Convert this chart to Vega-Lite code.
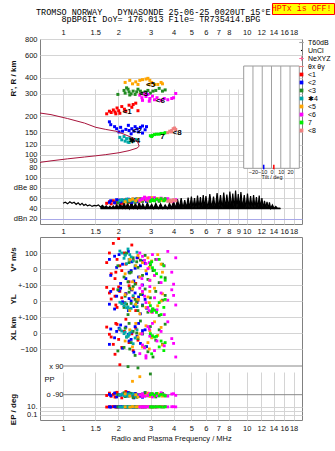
{
  "$schema": "https://vega.github.io/schema/vega-lite/v6.json",
  "padding": {"left": 8, "top": 2, "right": 0, "bottom": 0},
  "title": {
    "text": "TROMSO NORWAY\u00a0\u00a0\u00a0DYNASONDE 25-06-25 0020UT 15°E",
    "subtitle": "\u200b\u00a0\u00a0\u00a0\u00a0\u00a08pBP6It DoY= 176.013 File= TR735414.BPG",
    "anchor": "start", "frame": "group", "offset": -21, "dx": -4,
    "font": "Liberation Mono", "fontSize": 8.5, "fontWeight": "normal", "color": "#000",
    "subtitleFont": "Liberation Mono", "subtitleFontSize": 8.5, "subtitleColor": "#000", "subtitlePadding": -1
  },
  "datasets": {
    "echo": [
      {"c":"<1","f":1.73,"R":209,"a":50,"v":40,"yl":85,"xl":37,"pp":-95,"ep":9},
      {"c":"<1","f":1.79,"R":219,"a":53,"v":100,"yl":50,"xl":-8,"pp":-80,"ep":11},
      {"c":"<1","f":1.83,"R":214,"a":49,"v":-30,"yl":12,"xl":-25,"pp":-100,"ep":10},
      {"c":"<1","f":1.88,"R":224,"a":55,"v":160,"yl":75,"xl":-71,"pp":-88,"ep":12},
      {"c":"<1","f":1.92,"R":216,"a":52,"v":-60,"yl":30,"xl":-133,"pp":-105,"ep":10},
      {"c":"<1","f":1.97,"R":232,"a":51,"v":60,"yl":-40,"xl":54,"pp":-75,"ep":9},
      {"c":"<1","f":2.01,"R":221,"a":56,"v":190,"yl":88,"xl":-40,"pp":-92,"ep":11},
      {"c":"<1","f":2.04,"R":211,"a":53,"v":20,"yl":60,"xl":20,"pp":98,"ep":10},
      {"c":"<1","f":2.09,"R":238,"a":50,"v":-10,"yl":20,"xl":-90,"pp":-110,"ep":10},
      {"c":"<1","f":2.16,"R":227,"a":54,"v":100,"yl":-10,"xl":10,"pp":-85,"ep":12},
      {"c":"<1","f":2.20,"R":219,"a":57,"v":30,"yl":45,"xl":86,"pp":-70,"ep":9},
      {"c":"<1","f":2.29,"R":244,"a":52,"v":-80,"yl":95,"xl":-60,"pp":-98,"ep":10},
      {"c":"<1","f":2.37,"R":235,"a":55,"v":150,"yl":70,"xl":-5,"pp":-90,"ep":11},
      {"c":"<1","f":2.41,"R":247,"a":58,"v":55,"yl":25,"xl":-110,"pp":-102,"ep":10},
      {"c":"<1","f":2.49,"R":253,"a":53,"v":-90,"yl":-60,"xl":30,"pp":-84,"ep":9},
      {"c":"<1","f":2.56,"R":221,"a":56,"v":70,"yl":5,"xl":-45,"pp":-95,"ep":11},
      {"c":"<1","f":1.94,"R":209,"a":51,"v":-20,"yl":-25,"xl":60,"pp":-78,"ep":10},

      {"c":"<2","f":1.79,"R":181,"a":52,"v":60,"yl":-20,"xl":-71,"pp":-88,"ep":10},
      {"c":"<2","f":1.82,"R":172,"a":55,"v":-40,"yl":60,"xl":25,"pp":-96,"ep":9},
      {"c":"<2","f":1.91,"R":166,"a":51,"v":80,"yl":-50,"xl":-30,"pp":-80,"ep":11},
      {"c":"<2","f":1.96,"R":160,"a":57,"v":10,"yl":30,"xl":10,"pp":-104,"ep":10},
      {"c":"<2","f":2.06,"R":164,"a":53,"v":-90,"yl":80,"xl":50,"pp":-92,"ep":12},
      {"c":"<2","f":2.11,"R":153,"a":56,"v":30,"yl":-5,"xl":-95,"pp":-85,"ep":10},
      {"c":"<2","f":2.20,"R":158,"a":54,"v":-60,"yl":45,"xl":37,"pp":-99,"ep":9},
      {"c":"<2","f":2.27,"R":170,"a":58,"v":110,"yl":-60,"xl":-8,"pp":-76,"ep":11},
      {"c":"<2","f":2.29,"R":155,"a":55,"v":-20,"yl":15,"xl":-50,"pp":-93,"ep":10},
      {"c":"<2","f":2.37,"R":160,"a":52,"v":45,"yl":70,"xl":5,"pp":-87,"ep":10},
      {"c":"<2","f":2.43,"R":153,"a":57,"v":-75,"yl":-35,"xl":-120,"pp":-110,"ep":9},
      {"c":"<2","f":2.47,"R":166,"a":54,"v":5,"yl":50,"xl":40,"pp":-82,"ep":12},
      {"c":"<2","f":2.53,"R":160,"a":59,"v":70,"yl":-10,"xl":-20,"pp":-95,"ep":10},
      {"c":"<2","f":2.58,"R":151,"a":53,"v":-50,"yl":25,"xl":60,"pp":-90,"ep":11},
      {"c":"<2","f":2.64,"R":164,"a":56,"v":20,"yl":-80,"xl":-65,"pp":-100,"ep":10},
      {"c":"<2","f":2.71,"R":168,"a":55,"v":-100,"yl":40,"xl":-5,"pp":-86,"ep":9},
      {"c":"<2","f":2.80,"R":157,"a":58,"v":35,"yl":10,"xl":20,"pp":-79,"ep":10},
      {"c":"<2","f":2.85,"R":166,"a":54,"v":-30,"yl":-45,"xl":-85,"pp":-97,"ep":11},
      {"c":"<2","f":2.02,"R":151,"a":56,"v":90,"yl":65,"xl":30,"pp":-91,"ep":10},
      {"c":"<2","f":2.35,"R":146,"a":53,"v":-10,"yl":0,"xl":-40,"pp":-84,"ep":12},
      {"c":"<2","f":2.71,"R":148,"a":57,"v":50,"yl":-25,"xl":15,"pp":-106,"ep":9},

      {"c":"<3","f":1.99,"R":296,"a":51,"v":20,"yl":70,"xl":-112,"pp":-90,"ep":10},
      {"c":"<3","f":2.15,"R":318,"a":54,"v":-50,"yl":-40,"xl":-90,"pp":-78,"ep":11},
      {"c":"<3","f":2.18,"R":303,"a":56,"v":90,"yl":30,"xl":30,"pp":-102,"ep":9},
      {"c":"<3","f":2.26,"R":325,"a":53,"v":-80,"yl":-85,"xl":-20,"pp":86,"ep":10},
      {"c":"<3","f":2.29,"R":310,"a":57,"v":40,"yl":55,"xl":60,"pp":-95,"ep":12},
      {"c":"<3","f":2.35,"R":299,"a":55,"v":-20,"yl":-15,"xl":-60,"pp":-84,"ep":10},
      {"c":"<3","f":2.41,"R":314,"a":58,"v":70,"yl":90,"xl":10,"pp":-108,"ep":11},
      {"c":"<3","f":2.47,"R":296,"a":52,"v":-95,"yl":10,"xl":-140,"pp":-92,"ep":9},
      {"c":"<3","f":2.56,"R":325,"a":56,"v":10,"yl":-60,"xl":-35,"pp":78,"ep":10},
      {"c":"<3","f":2.64,"R":314,"a":59,"v":55,"yl":40,"xl":75,"pp":-88,"ep":10},
      {"c":"<3","f":2.71,"R":303,"a":54,"v":-40,"yl":-30,"xl":-5,"pp":-99,"ep":12},
      {"c":"<3","f":2.80,"R":310,"a":57,"v":85,"yl":75,"xl":-87,"pp":-76,"ep":9},
      {"c":"<3","f":2.90,"R":318,"a":55,"v":-65,"yl":-70,"xl":-117,"pp":-94,"ep":11},
      {"c":"<3","f":2.99,"R":303,"a":60,"v":25,"yl":20,"xl":40,"pp":40,"ep":10},
      {"c":"<3","f":3.09,"R":314,"a":56,"v":-10,"yl":-50,"xl":-150,"pp":-86,"ep":10},
      {"c":"<3","f":3.20,"R":318,"a":58,"v":60,"yl":60,"xl":-45,"pp":-104,"ep":9},
      {"c":"<3","f":3.34,"R":330,"a":54,"v":-85,"yl":-90,"xl":20,"pp":-90,"ep":12},
      {"c":"<3","f":3.48,"R":314,"a":57,"v":30,"yl":5,"xl":-70,"pp":-82,"ep":10},
      {"c":"<3","f":3.60,"R":321,"a":59,"v":-55,"yl":35,"xl":55,"pp":-98,"ep":11},
      {"c":"<3","f":2.22,"R":333,"a":53,"v":100,"yl":-20,"xl":-25,"pp":-93,"ep":10},
      {"c":"<3","f":2.31,"R":293,"a":55,"v":-25,"yl":80,"xl":-100,"pp":-80,"ep":9},
      {"c":"<3","f":2.52,"R":310,"a":58,"v":45,"yl":-5,"xl":0,"pp":-106,"ep":10},

      {"c":"✱4","f":2.04,"R":137,"a":55,"v":112,"yl":-8,"xl":25,"pp":-92,"ep":10},
      {"c":"✱4","f":2.09,"R":131,"a":57,"v":100,"yl":-17,"xl":12,"pp":-88,"ep":9},
      {"c":"✱4","f":2.15,"R":139,"a":54,"v":67,"yl":-29,"xl":-4,"pp":-96,"ep":11},
      {"c":"✱4","f":2.22,"R":134,"a":58,"v":33,"yl":-42,"xl":-25,"pp":-86,"ep":10},
      {"c":"✱4","f":2.26,"R":126,"a":56,"v":125,"yl":-37,"xl":-17,"pp":-100,"ep":9},
      {"c":"✱4","f":2.31,"R":135,"a":55,"v":90,"yl":-50,"xl":0,"pp":-90,"ep":10},
      {"c":"✱4","f":2.35,"R":129,"a":57,"v":75,"yl":-46,"xl":12,"pp":-94,"ep":11},
      {"c":"✱4","f":2.41,"R":128,"a":56,"v":50,"yl":33,"xl":-67,"pp":-84,"ep":10},
      {"c":"✱4","f":2.47,"R":132,"a":54,"v":20,"yl":-25,"xl":-31,"pp":-98,"ep":9},
      {"c":"✱4","f":2.53,"R":131,"a":58,"v":105,"yl":-35,"xl":20,"pp":-91,"ep":10},
      {"c":"✱4","f":2.29,"R":125,"a":56,"v":60,"yl":-55,"xl":-10,"pp":-87,"ep":11},
      {"c":"✱4","f":2.18,"R":128,"a":55,"v":85,"yl":-12,"xl":5,"pp":-95,"ep":10},

      {"c":"<5","f":2.18,"R":367,"a":53,"v":-30,"yl":40,"xl":-50,"pp":-85,"ep":10},
      {"c":"<5","f":2.31,"R":381,"a":56,"v":60,"yl":-60,"xl":20,"pp":-98,"ep":9},
      {"c":"<5","f":2.39,"R":358,"a":58,"v":-80,"yl":75,"xl":-87,"pp":-6,"ep":12},
      {"c":"<5","f":2.49,"R":371,"a":55,"v":20,"yl":-20,"xl":60,"pp":-90,"ep":10},
      {"c":"<5","f":2.56,"R":354,"a":59,"v":85,"yl":10,"xl":-25,"pp":-104,"ep":11},
      {"c":"<5","f":2.62,"R":381,"a":54,"v":-50,"yl":-80,"xl":-5,"pp":23,"ep":10},
      {"c":"<5","f":2.71,"R":386,"a":57,"v":40,"yl":55,"xl":-87,"pp":-88,"ep":9},
      {"c":"<5","f":2.83,"R":390,"a":60,"v":-10,"yl":-40,"xl":45,"pp":-95,"ep":10},
      {"c":"<5","f":2.90,"R":395,"a":56,"v":70,"yl":25,"xl":-60,"pp":-80,"ep":12},
      {"c":"<5","f":2.97,"R":381,"a":58,"v":-70,"yl":60,"xl":15,"pp":-101,"ep":10},
      {"c":"<5","f":2.95,"R":354,"a":55,"v":10,"yl":-10,"xl":-100,"pp":-92,"ep":11},
      {"c":"<5","f":3.04,"R":367,"a":61,"v":50,"yl":-70,"xl":-30,"pp":-86,"ep":9},
      {"c":"<5","f":3.15,"R":354,"a":57,"v":-40,"yl":80,"xl":70,"pp":-97,"ep":10},
      {"c":"<5","f":3.28,"R":354,"a":59,"v":90,"yl":-30,"xl":-15,"pp":-83,"ep":10},
      {"c":"<5","f":3.48,"R":358,"a":56,"v":-20,"yl":45,"xl":-75,"pp":-99,"ep":11},
      {"c":"<5","f":3.42,"R":367,"a":58,"v":30,"yl":0,"xl":35,"pp":-90,"ep":12},

      {"c":"<6","f":2.62,"R":292,"a":56,"v":100,"yl":80,"xl":-129,"pp":-90,"ep":10},
      {"c":"<6","f":2.71,"R":266,"a":59,"v":79,"yl":60,"xl":-75,"pp":-85,"ep":11},
      {"c":"<6","f":2.78,"R":299,"a":62,"v":54,"yl":30,"xl":-92,"pp":-100,"ep":10},
      {"c":"<6","f":2.83,"R":285,"a":57,"v":33,"yl":-10,"xl":-142,"pp":140,"ep":9},
      {"c":"<6","f":2.90,"R":296,"a":60,"v":2,"yl":-40,"xl":40,"pp":-95,"ep":12},
      {"c":"<6","f":2.97,"R":275,"a":55,"v":-71,"yl":90,"xl":-20,"pp":-82,"ep":10},
      {"c":"<6","f":3.07,"R":287,"a":58,"v":90,"yl":-70,"xl":60,"pp":-104,"ep":10},
      {"c":"<6","f":3.15,"R":269,"a":61,"v":-40,"yl":20,"xl":-110,"pp":-88,"ep":11},
      {"c":"<6","f":3.25,"R":279,"a":57,"v":60,"yl":-55,"xl":-50,"pp":-96,"ep":9},
      {"c":"<6","f":3.42,"R":266,"a":60,"v":-85,"yl":50,"xl":10,"pp":-78,"ep":10},
      {"c":"<6","f":3.56,"R":275,"a":56,"v":20,"yl":-85,"xl":-80,"pp":-92,"ep":12},
      {"c":"<6","f":3.72,"R":269,"a":59,"v":110,"yl":5,"xl":70,"pp":-99,"ep":10},
      {"c":"<6","f":3.91,"R":275,"a":54,"v":-20,"yl":70,"xl":-35,"pp":-86,"ep":11},
      {"c":"<6","f":4.11,"R":301,"a":57,"v":70,"yl":-25,"xl":-150,"pp":-94,"ep":10},
      {"c":"<6","f":2.69,"R":279,"a":58,"v":-60,"yl":100,"xl":-5,"pp":-101,"ep":9},
      {"c":"<6","f":2.95,"R":262,"a":61,"v":40,"yl":-60,"xl":25,"pp":-90,"ep":10},
      {"c":"<6","f":4.0,"R":279,"a":55,"v":-95,"yl":35,"xl":-65,"pp":-84,"ep":11},

      {"c":"7","f":2.99,"R":141,"a":54,"v":33,"yl":-29,"xl":-4,"pp":-90,"ep":10},
      {"c":"7","f":3.07,"R":142,"a":57,"v":8,"yl":-50,"xl":-17,"pp":-86,"ep":9},
      {"c":"7","f":3.15,"R":144,"a":55,"v":-8,"yl":-58,"xl":-25,"pp":-94,"ep":10},
      {"c":"7","f":3.23,"R":145,"a":58,"v":-29,"yl":-71,"xl":-21,"pp":-82,"ep":11},
      {"c":"7","f":3.34,"R":145,"a":56,"v":60,"yl":-10,"xl":-87,"pp":-98,"ep":10},
      {"c":"7","f":3.42,"R":147,"a":59,"v":-50,"yl":-85,"xl":-50,"pp":-88,"ep":10},
      {"c":"7","f":3.54,"R":147,"a":55,"v":20,"yl":-40,"xl":-110,"pp":-92,"ep":9},
      {"c":"7","f":3.60,"R":149,"a":57,"v":-70,"yl":10,"xl":-60,"pp":-96,"ep":11},
      {"c":"7","f":3.04,"R":139,"a":56,"v":45,"yl":-65,"xl":-130,"pp":-84,"ep":10},

      {"c":"<8","f":3.72,"R":149,"a":54},
      {"c":"<8","f":3.81,"R":153,"a":56},
      {"c":"<8","f":3.91,"R":155,"a":55},
      {"c":"<8","f":3.98,"R":160,"a":57},
      {"c":"<8","f":4.05,"R":162,"a":56},
      {"c":"<8","f":4.11,"R":158,"a":55},
      {"c":"<8","f":3.88,"R":151,"a":53}
    ],
    "labs": [
      {"f":2.11,"R":215,"t":"<1"},
      {"f":2.39,"R":153,"t":"<2"},
      {"f":2.59,"R":296,"t":"<3"},
      {"f":2.28,"R":129,"t":"✱4"},
      {"f":2.83,"R":352,"t":"<5"},
      {"f":3.2,"R":262,"t":"<6"},
      {"f":3.38,"R":138,"t":"7"},
      {"f":3.95,"R":148,"t":"<8"}
    ],
    "curve": [
      {"i":1,"f":0.75,"R":212},{"i":2,"f":0.861,"R":206},{"i":3,"f":1.06,"R":192},{"i":4,"f":1.31,"R":177},
      {"i":5,"f":1.51,"R":164},{"i":6,"f":1.71,"R":158},{"i":7,"f":1.94,"R":153},{"i":8,"f":2.15,"R":145},
      {"i":9,"f":2.39,"R":136},{"i":10,"f":2.55,"R":126},{"i":11,"f":2.6,"R":117},{"i":12,"f":2.53,"R":113},
      {"i":13,"f":2.29,"R":108},{"i":14,"f":2.02,"R":104},{"i":15,"f":1.71,"R":100.5},{"i":16,"f":1.51,"R":98.4},
      {"i":17,"f":1.31,"R":96.3},{"i":18,"f":1.06,"R":93.2},{"i":19,"f":0.861,"R":89.9},{"i":20,"f":0.75,"R":87.5}
    ],
    "noise": [
      {"f":1.00,"a":50},{"f":1.03,"a":52},{"f":1.06,"a":49},{"f":1.09,"a":53},{"f":1.12,"a":50},{"f":1.15,"a":52},
      {"f":1.18,"a":48},{"f":1.21,"a":51},{"f":1.24,"a":47},{"f":1.27,"a":50},{"f":1.30,"a":46},{"f":1.33,"a":48},
      {"f":1.36,"a":45},{"f":1.40,"a":47},{"f":1.44,"a":44},{"f":1.48,"a":46},{"f":1.52,"a":45},{"f":1.56,"a":47},
      {"f":1.60,"a":43},{"f":1.64,"a":46},{"f":1.68,"a":42},{"f":1.72,"a":45},{"f":1.76,"a":41},{"f":1.80,"a":44},
      {"f":1.84,"a":41},{"f":1.88,"a":45},{"f":1.92,"a":41},{"f":1.96,"a":48},{"f":2.0,"a":41},{"f":2.05,"a":50},
      {"f":2.1,"a":41},{"f":2.15,"a":52},{"f":2.2,"a":41},{"f":2.25,"a":51},{"f":2.3,"a":40},{"f":2.36,"a":53},
      {"f":2.42,"a":41},{"f":2.48,"a":50},{"f":2.54,"a":40},{"f":2.6,"a":52},{"f":2.66,"a":41},{"f":2.72,"a":49},
      {"f":2.8,"a":40},{"f":2.88,"a":51},{"f":2.96,"a":41},{"f":3.04,"a":48},{"f":3.12,"a":40},{"f":3.2,"a":50},
      {"f":3.3,"a":40},{"f":3.4,"a":49},{"f":3.5,"a":40},{"f":3.6,"a":47},{"f":3.7,"a":40},{"f":3.8,"a":50},
      {"f":3.9,"a":41},{"f":4.0,"a":55},{"f":4.1,"a":40},{"f":4.2,"a":58},{"f":4.3,"a":41},{"f":4.4,"a":60},
      {"f":4.5,"a":40},{"f":4.6,"a":56},{"f":4.7,"a":41},{"f":4.8,"a":61},{"f":4.9,"a":40},{"f":5.0,"a":63},
      {"f":5.1,"a":41},{"f":5.2,"a":60},{"f":5.3,"a":40},{"f":5.4,"a":65},{"f":5.5,"a":41},{"f":5.6,"a":62},
      {"f":5.7,"a":40},{"f":5.8,"a":66},{"f":5.9,"a":41},{"f":6.0,"a":64},{"f":6.15,"a":40},{"f":6.3,"a":68},
      {"f":6.45,"a":41},{"f":6.6,"a":63},{"f":6.75,"a":40},{"f":6.9,"a":70},{"f":7.05,"a":41},{"f":7.2,"a":66},
      {"f":7.35,"a":40},{"f":7.5,"a":71},{"f":7.65,"a":41},{"f":7.8,"a":67},{"f":7.95,"a":40},{"f":8.1,"a":73},
      {"f":8.25,"a":41},{"f":8.4,"a":69},{"f":8.55,"a":40},{"f":8.7,"a":75},{"f":8.85,"a":41},{"f":9.0,"a":68},
      {"f":9.15,"a":40},{"f":9.3,"a":72},{"f":9.5,"a":41},{"f":9.7,"a":66},{"f":9.9,"a":40},{"f":10.1,"a":69},
      {"f":10.3,"a":41},{"f":10.5,"a":64},{"f":10.7,"a":40},{"f":10.9,"a":66},{"f":11.1,"a":41},{"f":11.3,"a":62},
      {"f":11.5,"a":40},{"f":11.7,"a":65},{"f":11.9,"a":41},{"f":12.1,"a":60},{"f":12.3,"a":40},{"f":12.5,"a":55},
      {"f":12.7,"a":41},{"f":12.9,"a":53},{"f":13.1,"a":40},{"f":13.3,"a":52},{"f":13.5,"a":40},{"f":13.8,"a":47},
      {"f":14.1,"a":40},{"f":14.4,"a":44},{"f":14.7,"a":40},{"f":15.2,"a":40}
    ],
    "tilt": [{"t":-20},{"t":-10},{"t":0},{"t":10},{"t":20}]
  },
  "vconcat": [
    {
      "width": 262, "height": 185,
      "layer": [
        {
          "data": {"name":"echo"},
          "mark": {"type":"point","filled":true,"size":9,"opacity":1},
          "encoding": {
            "x": {"field":"f","type":"quantitative","scale":{"type":"log","domain":[0.75,20],"nice":false},
                  "axis":{"orient":"bottom","values":[1,1.5,2,3,4,5,6,7,8,9,10,12,14,16,18],"format":"~g","grid":true,"title":null,"labelPadding":3}},
            "y": {"field":"R","type":"quantitative","scale":{"type":"log","domain":[71,800],"range":[135,0],"nice":false},
                  "axis":{"orient":"left","values":[80,90,100,120,150,200,300,400,600,800],"format":"~g","grid":true,"title":"R', R / km","titleX":-23,"titleY":39,"titleBaseline":"bottom"}},
            "color": {"field":"c","type":"nominal",
              "scale":{"domain":["T60dB","UnCl","NeXYZ","θx θy","<1","<2","<3","✱4","<5","<6","7","<8"],
                       "range":["#a0a0a0","#000000","#ff6699","#f08080","#ff0000","#0000ff","#228b22","#00a8a8","#ffa500","#ff00ff","#00ee00","#f08080"]},
              "legend":{"orient":"none","legendX":258,"legendY":0,"title":null,"padding":0,"symbolSize":14,"labelFont":"Liberation Sans","labelFontSize":7,"labelColor":"#000","labelOffset":3,"rowPadding":0,"labelExpr":"datum.label=='7'?'\u00a0 7':datum.label"}},
            "shape": {"field":"c","type":"nominal",
              "scale":{"domain":["T60dB","UnCl","NeXYZ","θx θy","<1","<2","<3","✱4","<5","<6","7","<8"],
                       "range":["M-1.2,-0.3H1.2V0.3H-1.2Z","M-0.3,-0.3H0.3V0.3H-0.3Z","M-1.2,-0.25H1.2V0.25H-1.2ZM-0.25,-1.2H0.25V1.2H-0.25Z","M-1.2,-0.3H1.2V0.3H-1.2Z","square","square","square","square","square","square","square","square"]},
              "legend":{"orient":"none","legendX":258,"legendY":0,"title":null,"padding":0,"symbolSize":14,"labelFont":"Liberation Sans","labelFontSize":7,"labelColor":"#000","labelOffset":3,"rowPadding":0,"labelExpr":"datum.label=='7'?'\u00a0 7':datum.label"}}
          }
        },
        {
          "data": {"name":"labs"},
          "mark": {"type":"text","align":"left","baseline":"middle","font":"Liberation Sans","fontSize":8,"fontWeight":"bold","color":"#000"},
          "encoding": {
            "x": {"field":"f","type":"quantitative","scale":{"type":"log","domain":[0.75,20],"nice":false},"axis":null},
            "y": {"field":"R","type":"quantitative","scale":{"type":"log","domain":[71,800],"range":[135,0],"nice":false},"axis":null},
            "text": {"field":"t"}
          }
        },
        {
          "data": {"name":"noise"},
          "transform": [{"filter":"datum.f >= 1.58"}],
          "mark": {"type":"area","color":"#000","opacity":1},
          "encoding": {
            "x": {"field":"f","type":"quantitative","scale":{"type":"log","domain":[0.75,20],"nice":false},"axis":null},
            "y": {"field":"a","type":"quantitative","scale":{"domain":[9.66,107.2],"range":[185,135],"nice":false,"zero":false},"axis":null},
            "y2": {"datum":40}
          }
        },
        {
          "data": {"name":"noise"},
          "mark": {"type":"line","color":"#000","strokeWidth":1.2},
          "encoding": {
            "x": {"field":"f","type":"quantitative","scale":{"type":"log","domain":[0.75,20],"nice":false},"axis":null},
            "y": {"field":"a","type":"quantitative","scale":{"domain":[9.66,107.2],"range":[185,135],"nice":false,"zero":false},
                  "axis":{"orient":"left","values":[100,80,60,40,20],"labelExpr":"datum.value==80?'dBe 80':datum.value==20?'dBn 20':datum.label","grid":true,
                          "gridColor":{"condition":{"test":"datum.value==20","value":"#a8a8e8"},"value":"#d4d4d4"},"title":null}}
          }
        },
        {
          "data": {"values":[{}]},
          "mark": {"type":"rule","color":"#000","strokeWidth":1.5},
          "encoding": {
            "x": {"datum":1.6,"type":"quantitative","scale":{"type":"log","domain":[0.75,20],"nice":false},"axis":null},
            "x2": {"datum":15.3},
            "y": {"datum":40,"type":"quantitative","scale":{"domain":[9.66,107.2],"range":[185,135],"nice":false,"zero":false},"axis":null}
          }
        },
        {
          "data": {"name":"echo"},
          "mark": {"type":"point","filled":true,"size":9,"opacity":1},
          "encoding": {
            "x": {"field":"f","type":"quantitative","scale":{"type":"log","domain":[0.75,20],"nice":false},"axis":null},
            "y": {"field":"a","type":"quantitative","scale":{"domain":[9.66,107.2],"range":[185,135],"nice":false,"zero":false},"axis":null},
            "color": {"field":"c","type":"nominal",
              "scale":{"domain":["T60dB","UnCl","NeXYZ","θx θy","<1","<2","<3","✱4","<5","<6","7","<8"],
                       "range":["#a0a0a0","#000000","#ff6699","#f08080","#ff0000","#0000ff","#228b22","#00a8a8","#ffa500","#ff00ff","#00ee00","#f08080"]},
              "legend":{"orient":"none","legendX":258,"legendY":0,"title":null,"padding":0,"symbolSize":14,"labelFont":"Liberation Sans","labelFontSize":7,"labelColor":"#000","labelOffset":3,"rowPadding":0,"labelExpr":"datum.label=='7'?'\u00a0 7':datum.label"}},
            "shape": {"field":"c","type":"nominal",
              "scale":{"domain":["T60dB","UnCl","NeXYZ","θx θy","<1","<2","<3","✱4","<5","<6","7","<8"],
                       "range":["M-1.2,-0.3H1.2V0.3H-1.2Z","M-0.3,-0.3H0.3V0.3H-0.3Z","M-1.2,-0.25H1.2V0.25H-1.2ZM-0.25,-1.2H0.25V1.2H-0.25Z","M-1.2,-0.3H1.2V0.3H-1.2Z","square","square","square","square","square","square","square","square"]},
              "legend":{"orient":"none","legendX":258,"legendY":0,"title":null,"padding":0,"symbolSize":14,"labelFont":"Liberation Sans","labelFontSize":7,"labelColor":"#000","labelOffset":3,"rowPadding":0,"labelExpr":"datum.label=='7'?'\u00a0 7':datum.label"}}
          }
        },
        {
          "data": {"name":"curve"},
          "mark": {"type":"line","color":"#a8143c","strokeWidth":1},
          "encoding": {
            "x": {"field":"f","type":"quantitative","scale":{"type":"log","domain":[0.75,20],"nice":false},
                  "axis":{"orient":"top","values":[1,1.5,2,3,4,5,6,7,8,10,12,14,16,18],"format":"~g","grid":false,"title":null,"labelPadding":3}},
            "y": {"field":"R","type":"quantitative","scale":{"type":"log","domain":[71,800],"range":[135,0],"nice":false},"axis":null},
            "order": {"field":"i","type":"quantitative"}
          }
        },
        {
          "data": {"values":[{"msg":"HPTx is OFF!"}]},
          "mark": {"type":"line","opacity":0},
          "encoding": {
            "x": {"datum":1,"type":"quantitative","scale":{"type":"log","domain":[0.75,20],"nice":false},"axis":null},
            "y": {"datum":100,"type":"quantitative","scale":{"type":"log","domain":[71,800],"range":[135,0],"nice":false},"axis":null},
            "strokeDash": {"field":"msg","type":"nominal","legend":{"orient":"none","legendX":232,"legendY":-36,"title":null,"fillColor":"#ffff00","strokeColor":"#ff0000","padding":1.5,"labelColor":"#ff0000","labelFont":"Liberation Mono","labelFontSize":8.3,"symbolOpacity":0,"symbolSize":0,"symbolStrokeWidth":0,"labelOffset":-10}}
          }
        },
        {
          "data": {"values":[{}]},
          "mark": {"type":"rect","fill":"#ffffff","stroke":"#9a9a9a","strokeWidth":1},
          "encoding": {
            "x": {"datum":-30,"type":"quantitative","scale":{"domain":[-30,30],"range":[203.7,259.3],"nice":false,"zero":false},
                  "axis":{"orient":"bottom","offset":-55.7,"values":[-20,-10,0,10,20],"title":"Tilt / deg","labelFontSize":5.5,"titleFontSize":5.5,"titleFontWeight":"normal","labelPadding":1,"titlePadding":0,"grid":false}},
            "x2": {"datum":30},
            "y": {"datum":0,"type":"quantitative","scale":{"domain":[0,1],"range":[129.3,27],"nice":false,"zero":false},"axis":null},
            "y2": {"datum":1}
          }
        },
        {
          "data": {"name":"tilt"},
          "mark": {"type":"rule","color":"#a0a0a0","strokeWidth":1},
          "encoding": {
            "x": {"field":"t","type":"quantitative","scale":{"domain":[-30,30],"range":[203.7,259.3],"nice":false,"zero":false},"axis":null},
            "y": {"datum":0,"type":"quantitative","scale":{"domain":[0,1],"range":[129.3,27],"nice":false,"zero":false},"axis":null},
            "y2": {"datum":1}
          }
        },
        {
          "data": {"values":[{"t":-8.4}]},
          "mark": {"type":"rule","color":"#0000ff","strokeWidth":1.5},
          "encoding": {
            "x": {"field":"t","type":"quantitative","scale":{"domain":[-30,30],"range":[203.7,259.3],"nice":false,"zero":false},"axis":null},
            "y": {"datum":-0.01,"type":"quantitative","scale":{"domain":[0,1],"range":[129.3,27],"nice":false,"zero":false},"axis":null},
            "y2": {"datum":0.035}
          }
        },
        {
          "data": {"values":[{"t":2.5}]},
          "mark": {"type":"rule","color":"#ff0000","strokeWidth":1.5},
          "encoding": {
            "x": {"field":"t","type":"quantitative","scale":{"domain":[-30,30],"range":[203.7,259.3],"nice":false,"zero":false},"axis":null},
            "y": {"datum":-0.01,"type":"quantitative","scale":{"domain":[0,1],"range":[129.3,27],"nice":false,"zero":false},"axis":null},
            "y2": {"datum":0.035}
          }
        }
      ],
      "resolve": {"scale": {"x": "independent", "y": "independent"}}
    },
    {
      "width": 262, "height": 183,
      "layer": [
        {
          "data": {"name":"echo"},
          "mark": {"type":"square","size":8,"opacity":1},
          "encoding": {
            "x": {"field":"f","type":"quantitative","scale":{"type":"log","domain":[0.75,20],"nice":false},
                  "axis":{"orient":"bottom","values":[1,1.5,2,3,4,5,6,7,8,10,12,14,16,18],"format":"~g","grid":true,"title":"Radio and Plasma Frequency / MHz","titleFontWeight":"normal","titleFontSize":7.5,"labelPadding":4,"titlePadding":3}},
            "y": {"field":"v","type":"quantitative","scale":{"domain":[-100,200],"range":[48,0],"nice":false,"zero":false},
                  "axis":{"orient":"left","values":[100,0],"grid":true,"title":"V* m/s","titleX":-23,"titleY":22,"titleBaseline":"bottom"}},
            "color": {"field":"c","type":"nominal",
              "scale":{"domain":["T60dB","UnCl","NeXYZ","θx θy","<1","<2","<3","✱4","<5","<6","7","<8"],
                       "range":["#a0a0a0","#000000","#ff6699","#f08080","#ff0000","#0000ff","#228b22","#00a8a8","#ffa500","#ff00ff","#00ee00","#f08080"]},
              "legend":null}
          }
        },
        {
          "data": {"name":"echo"},
          "mark": {"type":"square","size":8,"opacity":1},
          "encoding": {
            "x": {"field":"f","type":"quantitative","scale":{"type":"log","domain":[0.75,20],"nice":false},"axis":null},
            "y": {"field":"yl","type":"quantitative","scale":{"domain":[-100,100],"range":[80,48],"nice":false,"zero":false},
                  "axis":{"orient":"left","values":[100,0,-100],"labelExpr":"datum.value==0?'0':'+-100'","grid":true,"title":"YL","titleX":-23,"titleY":62,"titleBaseline":"bottom"}},
            "color": {"field":"c","type":"nominal","legend":null}
          }
        },
        {
          "data": {"name":"echo"},
          "mark": {"type":"square","size":8,"opacity":1},
          "encoding": {
            "x": {"field":"f","type":"quantitative","scale":{"type":"log","domain":[0.75,20],"nice":false},"axis":null},
            "y": {"field":"xl","type":"quantitative","scale":{"domain":[-200,100],"range":[128,80],"nice":false,"zero":false},
                  "axis":{"orient":"left","values":[0,-100],"grid":true,"title":"XL  km","titleX":-23,"titleY":91,"titleBaseline":"bottom"}},
            "color": {"field":"c","type":"nominal","legend":null}
          }
        },
        {
          "data": {"values":[{"pp":90},{"pp":-90}]},
          "mark": {"type":"rule","color":"#888888","strokeWidth":1},
          "encoding": {
            "x": {"datum":1.0,"type":"quantitative","scale":{"type":"log","domain":[0.75,20],"nice":false},"axis":null},
            "x2": {"datum":20},
            "y": {"field":"pp","type":"quantitative","scale":{"domain":[-90,90],"range":[157.7,129],"nice":false,"zero":false},"axis":null}
          }
        },
        {
          "data": {"name":"echo"},
          "mark": {"type":"square","size":8,"opacity":1},
          "encoding": {
            "x": {"field":"f","type":"quantitative","scale":{"type":"log","domain":[0.75,20],"nice":false},"axis":null},
            "y": {"field":"pp","type":"quantitative","scale":{"domain":[-90,90],"range":[157.7,129],"nice":false,"zero":false},
                  "axis":{"orient":"left","values":[90,-90],"labelExpr":"datum.value>0?'x 90':'o -90'","labelAlign":"right","labelPadding":-23,"grid":false,
                          "title":"PP","titleAngle":0,"titleX":4,"titleY":142,"titleAlign":"left","titleBaseline":"middle","titleFontWeight":"normal","titleFontSize":7.5}},
            "color": {"field":"c","type":"nominal","legend":null}
          }
        },
        {
          "data": {"name":"echo"},
          "mark": {"type":"square","size":8,"opacity":1},
          "encoding": {
            "x": {"field":"f","type":"quantitative","scale":{"type":"log","domain":[0.75,20],"nice":false},"axis":null},
            "y": {"field":"ep","type":"quantitative","scale":{"type":"log","domain":[0.005,300],"range":[183,164],"nice":false},
                  "axis":{"orient":"left","values":[10,1,0.1],"labelExpr":"datum.value==10?'10.':datum.value==1?'':'0.1'","grid":true,"title":"EP / deg","titleX":-23,"titleY":172,"titleBaseline":"bottom"}},
            "color": {"field":"c","type":"nominal","legend":null}
          }
        }
      ],
      "resolve": {"scale": {"x": "independent", "y": "independent"}}
    }
  ],
  "spacing": 13,
  "bounds": "flush",
  "config": {
    "font": "Liberation Sans",
    "view": {"stroke": "#808080"},
    "axis": {"labelFont":"Liberation Sans","labelFontSize":7.5,"labelColor":"#111","titleFont":"Liberation Sans","titleFontSize":8,"titleFontWeight":"bold","titleColor":"#111",
             "domain":false,"ticks":false,"gridColor":"#d4d4d4","labelPadding":3,"labelOverlap":false,"labelFlush":false,"labelBound":false}
  }
}
